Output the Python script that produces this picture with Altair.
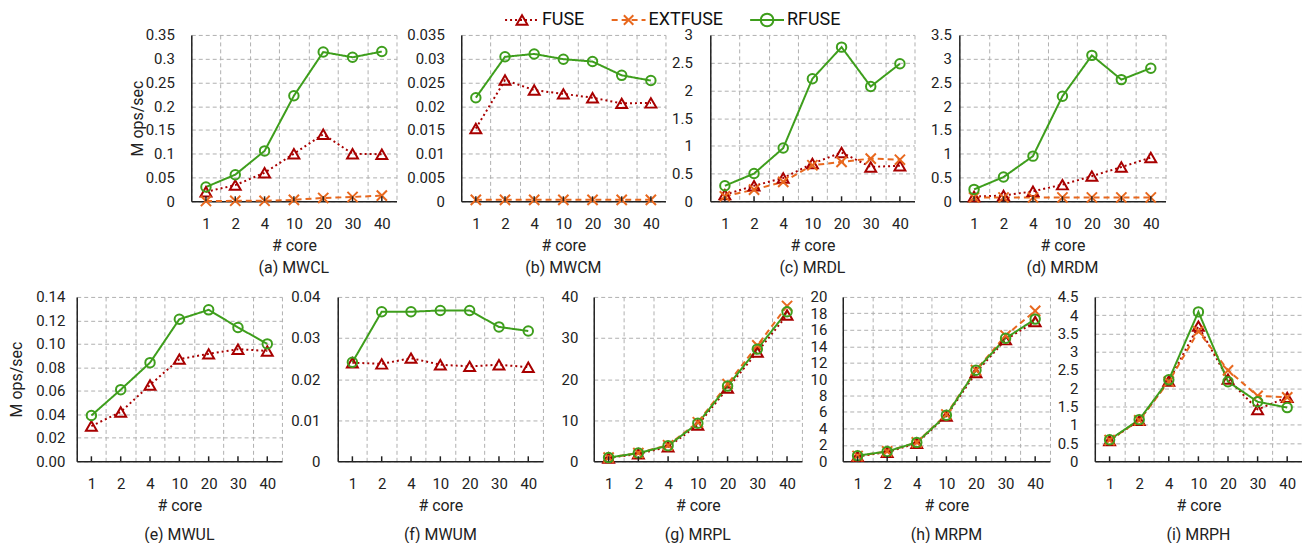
import altair as alt
import pandas as pd
import numpy as np

cores = ["1", "2", "4", "10", "20", "30", "40"]
series = ["FUSE", "EXTFUSE", "RFUSE"]
colors = ["#a80000", "#e8681e", "#3e9e1c"]
dashes = [[2, 3], [6, 4], [1, 0]]
shapes = ["triangle-up", "M-1,-1L1,1M-1,1L1,-1", "circle"]
sizes = [120, 90, 160]

# ---- values ----
mwcl_fuse = [0.02, 0.034, 0.06, 0.1, 0.141, 0.1, 0.099]
mwcl_ext = [0.0005, 0.001, 0.001, 0.003, 0.007, 0.009, 0.012]
mwcl_rfuse = [0.03, 0.056, 0.106, 0.222, 0.314, 0.303, 0.315]

mwcm_fuse = [0.0153, 0.0255, 0.0234, 0.0226, 0.0218, 0.0206, 0.0207]
mwcm_ext = [0.0003, 0.0003, 0.0003, 0.0003, 0.0003, 0.0003, 0.0003]
mwcm_rfuse = [0.0218, 0.0304, 0.031, 0.0299, 0.0294, 0.0265, 0.0254]

mrdl_fuse = [0.12, 0.28, 0.42, 0.68, 0.88, 0.62, 0.64]
mrdl_ext = [0.09, 0.21, 0.35, 0.65, 0.71, 0.77, 0.75]
mrdl_rfuse = [0.28, 0.5, 0.96, 2.21, 2.78, 2.07, 2.48]

mrdm_fuse = [0.1, 0.12, 0.21, 0.35, 0.53, 0.72, 0.92]
mrdm_ext = [0.08, 0.08, 0.08, 0.08, 0.08, 0.08, 0.08]
mrdm_rfuse = [0.25, 0.51, 0.95, 2.21, 3.07, 2.56, 2.8]

mwul_fuse = [0.030, 0.042, 0.065, 0.087, 0.0915, 0.0955, 0.094]
mwul_rfuse = [0.039, 0.061, 0.084, 0.121, 0.129, 0.114, 0.100]

mwum_fuse = [0.024, 0.0237, 0.0251, 0.0235, 0.0231, 0.0235, 0.0229]
mwum_rfuse = [0.0241, 0.0364, 0.0364, 0.0367, 0.0367, 0.0327, 0.0317]

mrpl_fuse = [0.8, 1.8, 3.5, 8.8, 17.8, 26.6, 35.6]
mrpl_ext = [0.9, 2.0, 3.9, 9.5, 18.8, 28.2, 37.8]
mrpl_rfuse = [0.9, 2.0, 3.8, 9.25, 18.3, 27.3, 36.4]

mrpm_fuse = [0.6, 1.1, 2.2, 5.5, 10.8, 14.8, 17.0]
mrpm_ext = [0.65, 1.2, 2.3, 5.7, 11.1, 15.3, 18.3]
mrpm_rfuse = [0.68, 1.2, 2.3, 5.6, 11.07, 14.97, 17.3]

mrph_fuse = [0.57, 1.12, 2.2, 3.7, 2.25, 1.42, 1.75]
mrph_ext = [0.58, 1.12, 2.18, 3.56, 2.49, 1.79, 1.75]
mrph_rfuse = [0.59, 1.14, 2.23, 4.09, 2.18, 1.63, 1.47]

captions = ["(a) MWCL", "(b) MWCM", "(c) MRDL", "(d) MRDM",
            "(e) MWUL", "(f) MWUM", "(g) MRPL", "(h) MRPM", "(i) MRPH"]
panel_values = [
    [mwcl_fuse, mwcl_ext, mwcl_rfuse],
    [mwcm_fuse, mwcm_ext, mwcm_rfuse],
    [mrdl_fuse, mrdl_ext, mrdl_rfuse],
    [mrdm_fuse, mrdm_ext, mrdm_rfuse],
    [mwul_fuse, None, mwul_rfuse],
    [mwum_fuse, None, mwum_rfuse],
    [mrpl_fuse, mrpl_ext, mrpl_rfuse],
    [mrpm_fuse, mrpm_ext, mrpm_rfuse],
    [mrph_fuse, mrph_ext, mrph_rfuse],
]
y_max = [0.35, 0.035, 3, 3.5, 0.14, 0.04, 40, 20, 4.5]
y_step = [0.05, 0.005, 0.5, 0.5, 0.02, 0.01, 10, 2, 0.5]
y_fmt = ["~f", "~f", "~f", "~f", ".2f", "~f", "~f", "~f", "~f"]

# layout (pixels)
widths = [206, 205, 205, 207, 206, 206, 209, 208, 208]
heights = [167, 167, 167, 167, 165, 165, 165, 165, 165]
label_pad = [17, 17, 18, 8, 12, 18, 16, 16, 17]
title_pad = [0, 0, 0, 0, 11, 0, 0, 0, 0]
axis_extent = [None, 65, 45, 45, None, 56, 51, 41, 45]
caption_offset = [7, 7, 7, 7, 14, 14, 14, 14, 14]

FONT = "Roboto"


def panel(i):
    rows = []
    for k, s in enumerate(series):
        vals = panel_values[i][k]
        if vals is None:
            continue
        for c, v in zip(cores, vals):
            rows.append({"core": c, "series": s, "value": v})
    df = pd.DataFrame(rows)
    ticks = np.round(np.arange(0, y_max[i] + y_step[i] / 2, y_step[i]), 6).tolist()
    yaxis_kw = dict(values=ticks, format=y_fmt[i], grid=True, labelPadding=label_pad[i])
    if i in (0, 4):
        yaxis_kw["title"] = "M ops/sec"
        yaxis_kw["titlePadding"] = title_pad[i]
    else:
        yaxis_kw["title"] = None
        yaxis_kw["minExtent"] = axis_extent[i]
        yaxis_kw["maxExtent"] = axis_extent[i]
    x = alt.X("core:N", sort=cores,
              scale=alt.Scale(type="band", domain=cores, paddingInner=0, paddingOuter=0),
              axis=alt.Axis(title="# core", labelAngle=0, tickBand="extent", grid=True,
                            labelPadding=15, titlePadding=6))
    y = alt.Y("value:Q", scale=alt.Scale(domain=[0, y_max[i]], nice=False, zero=True),
              axis=alt.Axis(**yaxis_kw))
    color = alt.Color("series:N", scale=alt.Scale(domain=series, range=colors), legend=None)
    base = alt.Chart(df)
    line = base.mark_line(strokeWidth=2).encode(
        x=x, y=y, color=color,
        strokeDash=alt.StrokeDash("series:N", scale=alt.Scale(domain=series, range=dashes), legend=None),
    )
    pts = base.mark_point(filled=False, strokeWidth=2, opacity=1).encode(
        x=x, y=y, color=color,
        shape=alt.Shape("series:N", scale=alt.Scale(domain=series, range=shapes), legend=None),
        size=alt.Size("series:N", scale=alt.Scale(domain=series, range=sizes), legend=None),
    )
    tick_df = pd.DataFrame({"core": cores})
    tk = alt.Chart(tick_df).mark_rule(color="#222", strokeWidth=1.5).encode(
        x=alt.X("core:N", sort=cores), y=alt.value(heights[i] - 5), y2=alt.value(heights[i]))
    return alt.layer(line, pts, tk).properties(
        width=widths[i], height=heights[i],
        title=alt.TitleParams(captions[i], orient="bottom", font=FONT, fontSize=16,
                              fontWeight="normal", color="#222", offset=caption_offset[i]),
    )


def spacer(w, h=10):
    return alt.Chart(pd.DataFrame({"v": [0]})).mark_point(opacity=0, size=1).encode(
        x=alt.value(0), y=alt.value(0)).properties(width=w, height=h)


def legend_item(k):
    d = pd.DataFrame({"series": [series[k]]})
    base = alt.Chart(d)
    rule = base.mark_rule(color=colors[k], strokeDash=dashes[k], strokeWidth=2).encode(
        x=alt.value(0), x2=alt.value(34), y=alt.value(7))
    pt = base.mark_point(shape=shapes[k], filled=False, color=colors[k], size=sizes[k],
                         strokeWidth=2, opacity=1).encode(x=alt.value(17), y=alt.value(7))
    txt = base.mark_text(align="left", baseline="middle", font=FONT, fontSize=18,
                         color="#111").encode(x=alt.value(37), y=alt.value(7), text="series:N")
    return alt.layer(rule, pt, txt).properties(width=34, height=14)


legend_row = alt.hconcat(spacer(403, 14), legend_item(0), legend_item(1), legend_item(2), spacing=26)
top_row = alt.hconcat(spacer(52), panel(0), panel(1), panel(2), panel(3), spacing=0)
bottom_row = alt.hconcat(panel(4), panel(5), panel(6), panel(7), panel(8), spacing=0)

chart = alt.vconcat(
    legend_row,
    alt.vconcat(top_row, bottom_row, spacing=14),
    spacing=-3,
).properties(
    padding={"left": 0, "top": 0, "right": 0, "bottom": 0}
).configure_view(stroke=None).configure_axis(
    labelFont=FONT, labelFontSize=15, labelColor="#222",
    titleFont=FONT, titleFontSize=16, titleFontWeight="normal", titleColor="#222",
    domainColor="#222", domainWidth=1.5,
    gridColor="#b0b0b0", gridDash=[4, 3], gridWidth=1,
    ticks=False,
)

chart.save("out.html", embed_options={"renderer": "svg", "actions": False})
